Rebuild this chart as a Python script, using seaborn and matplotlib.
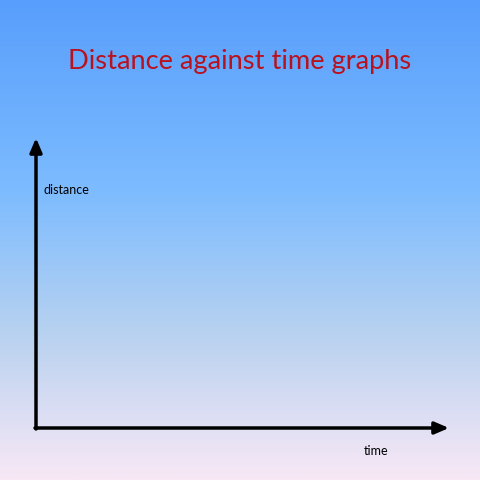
import numpy as np
import matplotlib.pyplot as plt
import seaborn as sns

title = "Distance against time graphs"
y_label = "distance"
x_label = "time"

sns.set_theme(style="white")
plt.rcParams["font.family"] = ["Lato", "DejaVu Sans"]

fig = plt.figure(figsize=(4.8, 4.8), dpi=100)
ax = fig.add_axes([0, 0, 1, 1])
ax.set_xlim(0, 480)
ax.set_ylim(480, 0)
ax.axis("off")

# background gradient, blue at the top to pale pink at the bottom
stops = np.array([[88, 158, 252], [125, 188, 255], [185, 210, 240], [248, 232, 246]]) / 255
pos = np.array([0, 0.4, 0.7, 1.0])
t = np.linspace(0, 1, 256)
grad = np.stack([np.interp(t, pos, stops[:, i]) for i in range(3)], axis=1)
ax.imshow(grad[:, None, :], extent=(0, 480, 480, 0), aspect="auto", zorder=0)

ax.text(240, 62, title, color="#b8121e", fontsize=19.6, ha="center", va="center")

arrow = dict(arrowstyle="-|>,head_length=0.7,head_width=0.3", color="black", lw=2.5,
             shrinkA=0, shrinkB=0)
ax.annotate("", xy=(36, 138), xytext=(36, 429), arrowprops=arrow)
ax.annotate("", xy=(449, 428), xytext=(35, 428), arrowprops=arrow)

ax.text(44, 190, y_label, fontsize=9, ha="left", va="center", color="black")
ax.text(364, 451, x_label, fontsize=9, ha="left", va="center", color="black")

fig.savefig("out.png", dpi=100)
